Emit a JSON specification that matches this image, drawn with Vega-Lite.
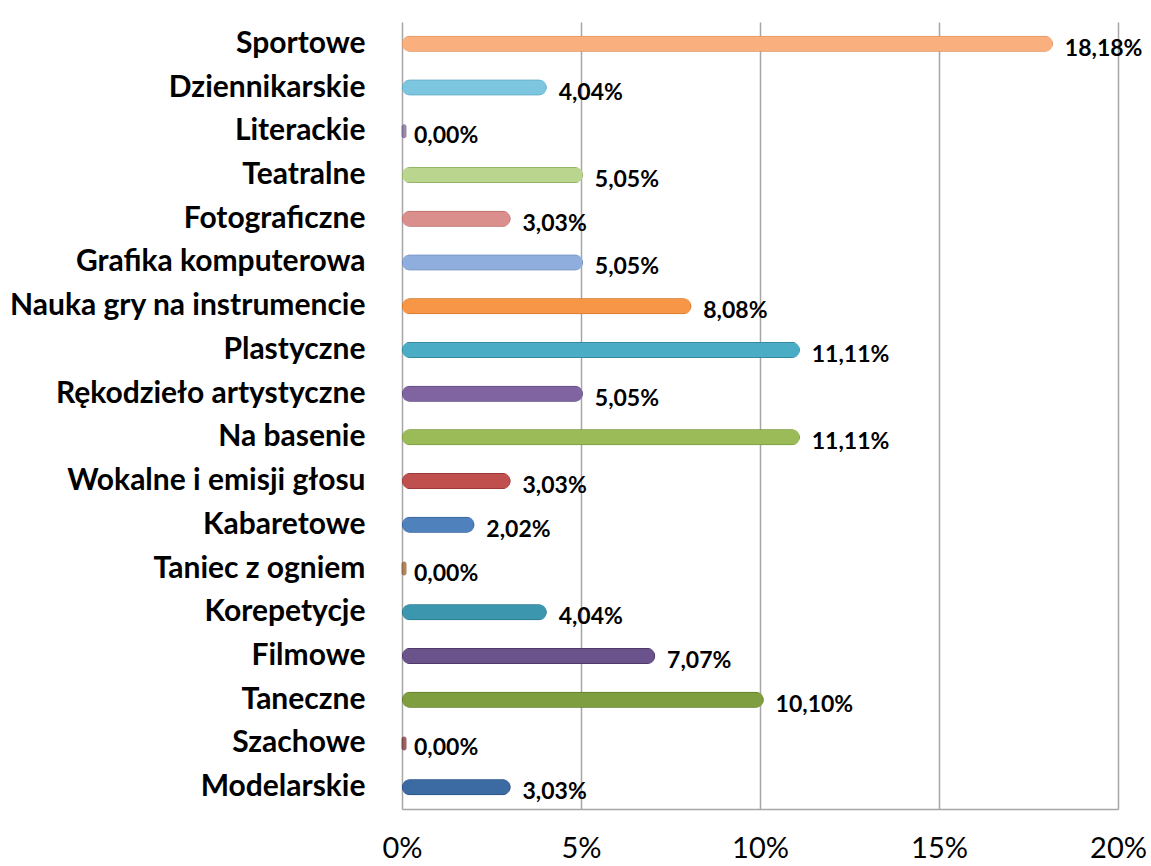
{
  "$schema": "https://vega.github.io/schema/vega-lite/v6.json",
  "autosize": {"type": "none"},
  "padding": {"left": 402, "top": 22, "right": 33, "bottom": 57},
  "width": 716,
  "height": 787,
  "background": "white",
  "config": {"view": {"stroke": null}},
  "data": {"values": [
    {"kategoria": "Sportowe", "wartosc": 18.18, "etykieta": "18,18%", "kolor": "#FAB07E", "obrys": "#D98A55"},
    {"kategoria": "Dziennikarskie", "wartosc": 4.04, "etykieta": "4,04%", "kolor": "#7DC6E0", "obrys": "#4E98B3"},
    {"kategoria": "Literackie", "wartosc": 0, "etykieta": "0,00%", "kolor": "#8C78A8", "obrys": "#6A5788"},
    {"kategoria": "Teatralne", "wartosc": 5.05, "etykieta": "5,05%", "kolor": "#BAD68E", "obrys": "#89A85E"},
    {"kategoria": "Fotograficzne", "wartosc": 3.03, "etykieta": "3,03%", "kolor": "#DB8F8D", "obrys": "#B0605E"},
    {"kategoria": "Grafika komputerowa", "wartosc": 5.05, "etykieta": "5,05%", "kolor": "#90AEDD", "obrys": "#6080B0"},
    {"kategoria": "Nauka gry na instrumencie", "wartosc": 8.08, "etykieta": "8,08%", "kolor": "#F79646", "obrys": "#C56C22"},
    {"kategoria": "Plastyczne", "wartosc": 11.11, "etykieta": "11,11%", "kolor": "#4BACC6", "obrys": "#2D7F96"},
    {"kategoria": "Rękodzieło artystyczne", "wartosc": 5.05, "etykieta": "5,05%", "kolor": "#8064A2", "obrys": "#5A4378"},
    {"kategoria": "Na basenie", "wartosc": 11.11, "etykieta": "11,11%", "kolor": "#9BBB59", "obrys": "#6F8E35"},
    {"kategoria": "Wokalne i emisji głosu", "wartosc": 3.03, "etykieta": "3,03%", "kolor": "#C0504D", "obrys": "#8E302D"},
    {"kategoria": "Kabaretowe", "wartosc": 2.02, "etykieta": "2,02%", "kolor": "#4F81BD", "obrys": "#2E5A8E"},
    {"kategoria": "Taniec z ogniem", "wartosc": 0, "etykieta": "0,00%", "kolor": "#C0773A", "obrys": "#8E5220"},
    {"kategoria": "Korepetycje", "wartosc": 4.04, "etykieta": "4,04%", "kolor": "#3C97AE", "obrys": "#236F82"},
    {"kategoria": "Filmowe", "wartosc": 7.07, "etykieta": "7,07%", "kolor": "#6A528A", "obrys": "#45325F"},
    {"kategoria": "Taneczne", "wartosc": 10.10, "etykieta": "10,10%", "kolor": "#7F9E3F", "obrys": "#566F22"},
    {"kategoria": "Szachowe", "wartosc": 0, "etykieta": "0,00%", "kolor": "#9A3B38", "obrys": "#6E2220"},
    {"kategoria": "Modelarskie", "wartosc": 3.03, "etykieta": "3,03%", "kolor": "#3C6AA3", "obrys": "#224677"}
  ]},
  "encoding": {
    "y": {"field": "kategoria", "type": "nominal", "sort": null,
      "scale": {"paddingInner": 0, "paddingOuter": 0},
      "axis": {"title": null, "ticks": false, "domain": false, "labelFont": "Lato", "labelFontWeight": "bold", "labelFontSize": 30, "labelColor": "#000000", "labelPadding": 37, "labelLimit": 0}}
  },
  "layer": [
    {
      "mark": {"type": "bar", "height": 16, "cornerRadius": 8, "strokeWidth": 1.5},
      "encoding": {
        "x": {"field": "wartosc", "type": "quantitative",
          "scale": {"domain": [0, 20], "nice": false},
          "axis": {"title": null, "values": [0, 5, 10, 15, 20], "labelExpr": "datum.value + '%'", "grid": true, "gridColor": "#A6A6A6", "gridWidth": 1.5, "domainColor": "#A6A6A6", "domainWidth": 1.5, "ticks": false, "labelFont": "Lato", "labelFontSize": 29, "labelColor": "#000000", "labelPadding": 25, "labelDx": -6, "labelFlush": false}},
        "color": {"field": "kolor", "type": "nominal", "scale": null, "legend": null},
        "stroke": {"field": "obrys", "type": "nominal", "scale": null, "legend": null}
      }
    },
    {
      "transform": [{"filter": "datum.wartosc == 0"}],
      "mark": {"type": "tick", "orient": "vertical", "size": 14, "thickness": 5, "cornerRadius": 2.5, "xOffset": 2},
      "encoding": {
        "x": {"field": "wartosc", "type": "quantitative"},
        "color": {"field": "obrys", "type": "nominal", "scale": null, "legend": null}
      }
    },
    {
      "mark": {"type": "text", "align": "left", "baseline": "middle", "dx": 12, "dy": 5, "font": "Lato", "fontWeight": "bold", "fontSize": 23, "color": "#000000"},
      "encoding": {
        "x": {"field": "wartosc", "type": "quantitative"},
        "text": {"field": "etykieta", "type": "nominal"}
      }
    }
  ]
}
